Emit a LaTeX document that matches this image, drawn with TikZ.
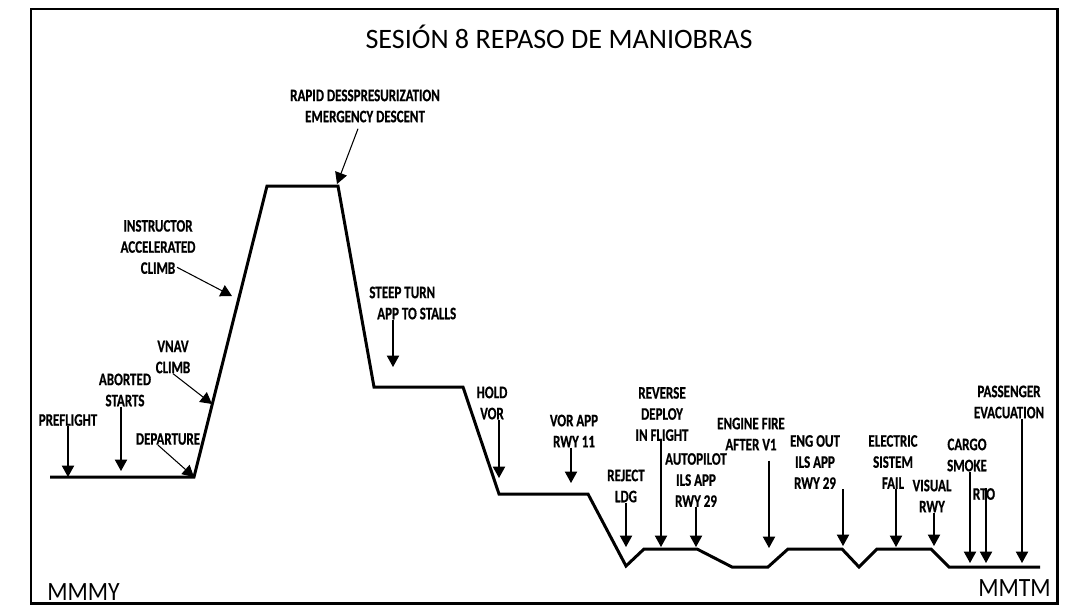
\documentclass[tikz,border=0pt]{standalone}
\usepackage{fontspec}
\setmainfont{Carlito}
\newfontfamily\lblfont[FakeStretch=0.74, FakeBold=0.6]{Carlito}
\newfontfamily\edgefont[FakeStretch=0.9]{Carlito}
\usetikzlibrary{arrows.meta,calc}
\tikzstyle{lbl} = [font=\lblfont\bfseries\fontsize{10}{12}\selectfont, align=center, inner sep=0pt]
\tikzstyle{airport} = [font=\edgefont\fontsize{15}{16}\selectfont, inner sep=0pt]
\tikzstyle{arrow} = [draw, line width=0.6pt, -{Triangle[length=6.5pt,width=7pt]}]
\tikzstyle{profile} = [draw, line width=1.7pt, line join=miter]

\begin{document}
\begin{tikzpicture}[x=0.02cm, y=-0.02cm]
        \useasboundingbox (0,0) rectangle (1091,613);
        \draw[line width=1.7pt] (31,9) rectangle (1057,603);
        \node (title) at (559,37) {\fontsize{16}{18}\selectfont SESIÓN 8 REPASO DE MANIOBRAS};
        \node (orig) [airport, anchor=base west] at (47,600) {MMMY};
        \node (dest) [airport, anchor=base east] at (1051,596) {MMTM};

        % flight profile
        \coordinate (p0) at (50,477);
        \coordinate (p1) at (194,477);
        \coordinate (p2) at (267,186);
        \coordinate (p3) at (338,186);
        \coordinate (p4) at (374,387);
        \coordinate (p5) at (463,387);
        \coordinate (p6) at (499,494);
        \coordinate (p7) at (588,494);
        \coordinate (p8) at (626,566);
        \coordinate (p9) at (644,549);
        \coordinate (p10) at (697,549);
        \coordinate (p11) at (732,567);
        \coordinate (p12) at (768,567);
        \coordinate (p13) at (788,549);
        \coordinate (p14) at (842,549);
        \coordinate (p15) at (859,567);
        \coordinate (p16) at (877,549);
        \coordinate (p17) at (931,549);
        \coordinate (p18) at (949,567);
        \coordinate (p19) at (1040,567);
        \path [profile] (p0) \foreach \i in {1,...,19} {-- (p\i)};

        % maneuvers
        \node (pre) [lbl] at (68,420) {PREFLIGHT};
        \node (abort) [lbl] at (125,390) {ABORTED\\STARTS};
        \node (dep) [lbl] at (168,439) {DEPARTURE};
        \node (vnav) [lbl] at (173,357) {VNAV\\CLIMB};
        \node (instr) [lbl] at (158,247) {INSTRUCTOR\\ACCELERATED\\CLIMB};
        \node (rapid) [lbl] at (365,106) {RAPID DESSPRESURIZATION\\EMERGENCY DESCENT};
        \node (steep) [lbl, align=left, anchor=west] at (369,303) {STEEP TURN\\\hspace*{4.5pt}APP TO STALLS};
        \node (hold) [lbl] at (492,403) {HOLD\\VOR};
        \node (vorapp) [lbl] at (574,431) {VOR APP\\RWY 11};
        \node (reject) [lbl] at (626,486) {REJECT\\LDG};
        \node (reverse) [lbl] at (662,414) {REVERSE\\DEPLOY\\IN FLIGHT};
        \node (auto) [lbl] at (696,480) {AUTOPILOT\\ILS APP\\RWY 29};
        \node (fire) [lbl] at (751,434) {ENGINE FIRE\\AFTER V1};
        \node (engout) [lbl] at (815,462) {ENG OUT\\ILS APP\\RWY 29};
        \node (elec) [lbl] at (893,462) {ELECTRIC\\SISTEM\\FAIL};
        \node (visual) [lbl] at (932,496) {VISUAL\\RWY};
        \node (cargo) [lbl] at (967,455) {CARGO\\SMOKE};
        \node (rto) [lbl] at (984,494) {RTO};
        \node (pax) [lbl] at (1009,402) {PASSENGER\\EVACUATION};

        \coordinate (preT) at (68,477);
        \coordinate (abortT) at (121,471);
        \coordinate (instrT) at (232,296);
        \coordinate (rapidT) at (337,184);
        \coordinate (vnavT) at (212,404);
        \coordinate (steepT) at (393,367);
        \coordinate (holdT) at (499,478);
        \coordinate (vorT) at (571,483);
        \coordinate (rejectT) at (626,547);
        \coordinate (reverseT) at (661,547);
        \coordinate (autoT) at (696,547);
        \coordinate (fireT) at (769,548);
        \coordinate (engoutT) at (843,546);
        \coordinate (elecT) at (896,547);
        \coordinate (visualT) at (934,546);
        \coordinate (cargoT) at (970,563);
        \coordinate (rtoT) at (986,563);
        \coordinate (paxT) at (1022,563);

        \path [arrow] (pre.south -| preT) -- (preT);
        \path [arrow] (abort.south -| abortT) -- (abortT);
        \path [arrow] ($(dep.south)+(-10,0)$) -- (p1);
        \path [arrow] (vnav.south) -- (vnavT);
        \path [arrow] ($(instr.south)+(19,-7)$) -- (instrT);
        \path [arrow] ($(rapid.south)+(-7,6)$) -- (rapidT);
        \path [arrow] (steep.south -| steepT) -- (steepT);
        \path [arrow] (hold.south -| holdT) -- (holdT);
        \path [arrow] (vorapp.south -| vorT) -- (vorT);
        \path [arrow] (reject.south -| rejectT) -- (rejectT);
        \path [arrow] (reverse.south -| reverseT) -- (reverseT);
        \path [arrow] (auto.south -| autoT) -- (autoT);
        \path [arrow] ($(fire.south -| fireT)+(0,10)$) -- (fireT);
        \path [arrow] (engout.south -| engoutT) -- (engoutT);
        \path [arrow] (elec.south -| elecT) -- (elecT);
        \path [arrow] (visual.south -| visualT) -- (visualT);
        \path [arrow] (cargo.south -| cargoT) -- (cargoT);
        \path [arrow] (rto.north -| rtoT) -- (rtoT);
        \path [arrow] (pax.south -| paxT) -- (paxT);
    \end{tikzpicture}
\end{document}
